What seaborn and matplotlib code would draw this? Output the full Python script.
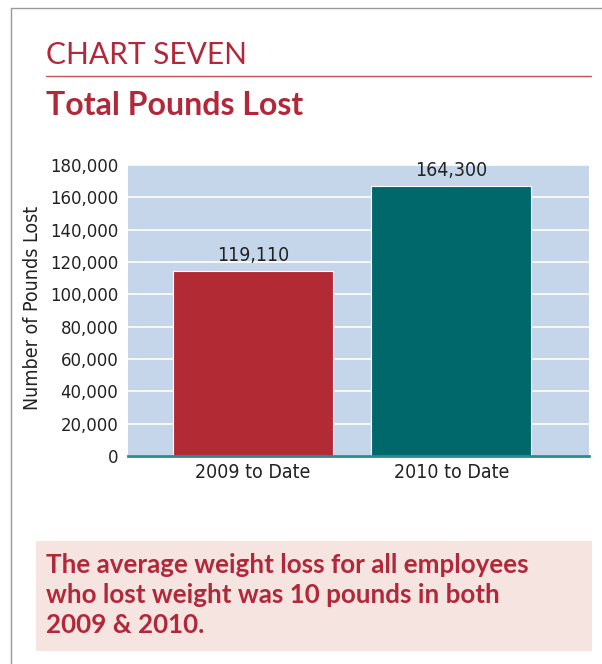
import matplotlib
matplotlib.use("Agg")
import matplotlib.pyplot as plt
from matplotlib import font_manager
import seaborn as sns
import pandas as pd
from matplotlib.patches import Rectangle
from matplotlib.lines import Line2D

# data
categories = ["2009 to Date", "2010 to Date"]
bar_heights = [114500, 167000]      # heights as drawn
bar_labels = ["119,110", "164,300"]  # printed values
y_ticks = [0, 20000, 40000, 60000, 80000, 100000, 120000, 140000, 160000, 180000]

RED = "#b2283a"
BAR_RED = "#b22a33"
TEAL = "#00676a"
BG = "#c5d5ea"
HEAD = ["Lato", "DejaVu Sans"]

# look for a condensed sans for the axis text
narrow_file = None
for f in font_manager.fontManager.ttflist:
    nm = (f.name + " " + f.fname).lower()
    if ("narrow" in nm or "condensed" in nm) and "bold" not in f.fname.lower() \
            and "italic" not in f.fname.lower() and "oblique" not in f.fname.lower():
        narrow_file = f.fname
        break
if narrow_file:
    def narrow(size):
        return font_manager.FontProperties(fname=narrow_file, size=size)
else:
    def narrow(size):
        return font_manager.FontProperties(family=["Roboto", "DejaVu Sans"], size=size)

sns.set_style("white")

df = pd.DataFrame({"period": categories, "pounds": bar_heights})

fig = plt.figure(figsize=(6.02, 6.64), dpi=100)
W, H = 602, 664


def fx(px):
    return px / W


def fy(py):
    return 1 - py / H


ax = fig.add_axes([fx(128), fy(456), fx(589) - fx(128), (456 - 165) / H])
ax.set_facecolor(BG)
ax.set_axisbelow(True)

sns.barplot(data=df, x="period", y="pounds", hue="period",
            palette=[BAR_RED, TEAL], saturation=1, width=0.806, legend=False,
            edgecolor="white", linewidth=0.8, ax=ax)

ax.set_xlim(-0.63, 1.693)
ax.set_ylim(0, 180000)
ax.set_yticks(y_ticks)
ax.set_yticklabels([f"{v:,}" for v in y_ticks], fontproperties=narrow(13.2), color="#222222")
ax.set_xticks(range(len(categories)))
ax.set_xticklabels(categories, fontproperties=narrow(14), color="#222222")
ax.tick_params(axis="both", length=0)
ax.tick_params(axis="y", pad=7)
ax.tick_params(axis="x", pad=5)
ax.yaxis.grid(True, color="white", linewidth=1.2)
ax.xaxis.grid(False)
ax.set_xlabel("")
ax.set_ylabel("")
for s in ["top", "right", "left"]:
    ax.spines[s].set_visible(False)
ax.spines["bottom"].set_color("#2a8c8f")
ax.spines["bottom"].set_linewidth(2)

for bar, lab in zip(ax.patches, bar_labels):
    ax.annotate(lab, (bar.get_x() + bar.get_width() / 2, bar.get_height()),
                xytext=(0, 4), textcoords="offset points", ha="center", va="bottom",
                fontproperties=narrow(14), color="#222222")

fig.text(fx(33), fy(308), "Number of Pounds Lost", rotation=90, ha="center", va="center",
         fontproperties=narrow(14), color="#222222")

# frame lines
fig.add_artist(Line2D([fx(11), fx(11)], [fy(8), 0], color="#9a9a9a", linewidth=1))
fig.add_artist(Line2D([fx(11), 1], [fy(8), fy(8)], color="#9a9a9a", linewidth=1))

# headings
fig.text(fx(46), fy(64), "CHART SEVEN", ha="left", va="baseline",
         family=HEAD, fontsize=21.5, color=RED)
fig.add_artist(Line2D([fx(46), fx(591)], [fy(76), fy(76)], color="#c8505f", linewidth=1))
fig.text(fx(46), fy(115), "Total Pounds Lost", ha="left", va="baseline",
         family=HEAD, fontsize=23, fontweight="bold", color=RED)

# note box
fig.add_artist(Rectangle((fx(36), fy(651)), fx(592) - fx(36), (651 - 541) / H,
                         facecolor="#f5e4df", edgecolor="none"))
note = ["The average weight loss for all employees",
        "who lost weight was 10 pounds in both",
        "2009 & 2010."]
for i, line in enumerate(note):
    fig.text(fx(46), fy(573 + 30 * i), line, ha="left", va="baseline",
             family=HEAD, fontsize=18.7, fontweight="bold", color=RED)

fig.savefig("out.png", dpi=100)
